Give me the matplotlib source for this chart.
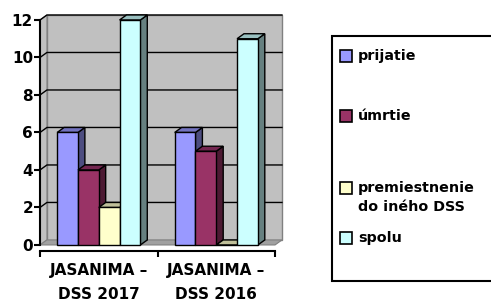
import matplotlib
matplotlib.use('Agg')
import matplotlib.pyplot as plt
from matplotlib.patches import Polygon, Rectangle

plt.rcParams['font.family'] = ['DejaVu Sans']
plt.rcParams['font.weight'] = 'bold'

# data
categories = ['JASANIMA –\nDSS 2017', 'JASANIMA –\nDSS 2016']
series = ['prijatie', 'úmrtie', 'premiestnenie\ndo iného DSS', 'spolu']
values = [
    [6, 6],   # prijatie
    [4, 5],   # úmrtie
    [2, 0],   # premiestnenie do iného DSS
    [12, 11], # spolu
]
yticks = [0, 2, 4, 6, 8, 10, 12]

front_colors = ['#9999FF', '#993366', '#FFFFCC', '#CCFFFF']
top_colors = ['#7373BF', '#732650', '#BFBF99', '#99BFBF']
side_colors = ['#4D4D80', '#4D1A33', '#808066', '#668080']

W, H = 491, 305
# 3d depth offsets in data units
DX = 0.059
DY = 0.267
BAR_W = 0.177
X0, X1 = -0.5, 1.5
YMAX = 12

fig = plt.figure(figsize=(W / 100, H / 100), dpi=100)
ax = fig.add_axes([40 / W, 0.1784, 0.499, 0.7868])
ax.set_xlim(-0.5, 1.585)
ax.set_ylim(-0.3, 12.5)
ax.patch.set_visible(False)

# walls and floor
wall = '#C0C0C0'
ax.add_patch(Polygon([(X0 + DX, DY), (X1 + DX, DY), (X1 + DX, YMAX + DY), (X0 + DX, YMAX + DY)],
                     closed=True, facecolor=wall, edgecolor='#808080', lw=1, zorder=0))
ax.add_patch(Polygon([(X0, 0), (X0 + DX, DY), (X0 + DX, YMAX + DY), (X0, YMAX)],
                     closed=True, facecolor=wall, edgecolor='#808080', lw=0.8, zorder=0))
ax.add_patch(Polygon([(X0, 0), (X1, 0), (X1 + DX, DY), (X0 + DX, DY)],
                     closed=True, facecolor='#A0A0A0', edgecolor='#808080', lw=0.8, zorder=0))

for v in yticks[1:]:
    ax.plot([X0, X0 + DX, X1 + DX], [v, v + DY, v + DY], color='black', lw=1, zorder=1)

# bars
z = 2
for ci in range(len(categories)):
    for si in range(len(series)):
        x = ci + (si - 1.5) * BAR_W
        h = values[si][ci]
        l, r = x - BAR_W / 2, x + BAR_W / 2
        ax.add_patch(Polygon([(r, 0), (r + DX, DY), (r + DX, h + DY), (r, h)], closed=True,
                             facecolor=side_colors[si], edgecolor='black', lw=1, zorder=z))
        ax.add_patch(Polygon([(l, h), (r, h), (r + DX, h + DY), (l + DX, h + DY)], closed=True,
                             facecolor=top_colors[si], edgecolor='black', lw=1, zorder=z))
        ax.bar(x, h, BAR_W, color=front_colors[si], edgecolor='black', lw=1, zorder=z + 1)
        z += 2

# axes
for s in ['top', 'right']:
    ax.spines[s].set_visible(False)
ax.spines['left'].set_bounds(0, YMAX)
ax.spines['bottom'].set_bounds(X0, X1)
for s in ['left', 'bottom']:
    ax.spines[s].set_linewidth(1.5)
    ax.spines[s].set_zorder(50)
ax.set_yticks(yticks)
ax.set_yticklabels([str(t) for t in yticks], fontsize=11, fontweight='bold')
ax.tick_params(axis='y', direction='out', length=4, width=1.5, pad=1)
ax.set_xticks([X0, 0.5, X1])
ax.set_xticklabels(['', '', ''])
ax.tick_params(axis='x', which='major', direction='out', length=4, width=1.5)
ax.set_xticks([0, 1], minor=True)
ax.set_xticklabels(categories, minor=True, fontsize=11, fontweight='bold', linespacing=1.75)
ax.tick_params(axis='x', which='minor', length=0, pad=9)

# legend, placed by pixel position
def fx(px):
    return px / W

def fy(py):
    return 1 - py / H

fig.add_artist(Rectangle((fx(332), fy(281)), fx(495) - fx(332), fy(36) - fy(281),
                         transform=fig.transFigure, facecolor='white', edgecolor='black', lw=1.5))
leg_y = [56, 116, 188, 238]
for si, name in enumerate(series):
    yc = leg_y[si]
    fig.add_artist(Rectangle((fx(340), fy(yc + 6)), fx(12), 12 / H,
                             transform=fig.transFigure, facecolor=front_colors[si],
                             edgecolor='black', lw=1.2))
    n_lines = name.count('\n') + 1
    fig.text(fx(358), fy(yc + (n_lines - 1) * 9.5), name, fontsize=10.3, fontweight='bold',
             va='center', ha='left', linespacing=1.45)

fig.savefig('out.png', dpi=100)
